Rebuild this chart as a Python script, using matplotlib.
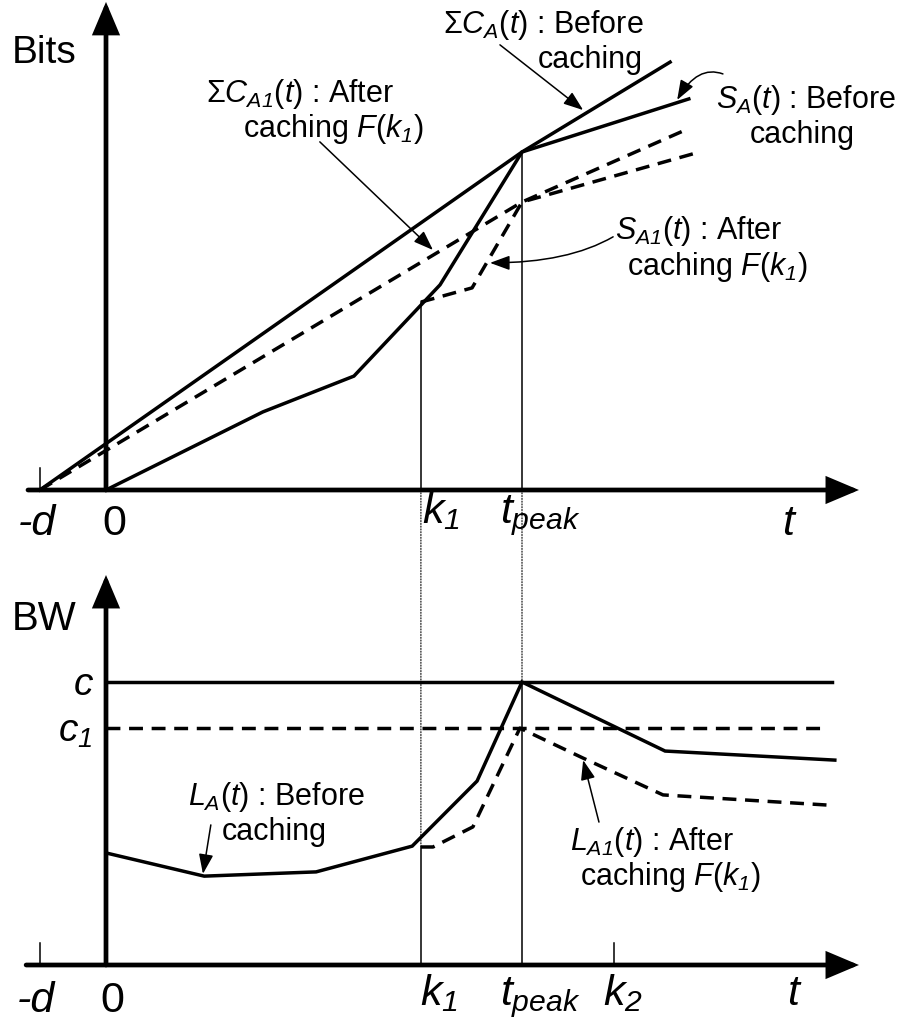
import matplotlib
matplotlib.use('Agg')
import matplotlib.pyplot as plt
from matplotlib.patches import ConnectionPatch

plt.rcParams['font.family'] = ['Liberation Sans', 'DejaVu Sans']
plt.rcParams['mathtext.fontset'] = 'custom'
plt.rcParams['mathtext.rm'] = 'Liberation Sans'
plt.rcParams['mathtext.it'] = 'Liberation Sans:italic'
# mathtext forces digits in \mathit to upright, so sf is used for italic digits
plt.rcParams['mathtext.sf'] = 'Liberation Sans:italic'
plt.rcParams['mathtext.bf'] = 'Liberation Sans:bold'

# time marks on the t axis (t_peak = 10)
t_d = -1.59
t_k1 = 7.57
t_peak = 10.0
t_k2 = 12.2

# upper panel: cumulative bits (peak = 100)
sumC_A_t = [t_d, 10.0, 13.56]
sumC_A_v = [0, 100, 126.6]
S_A_t = [0, 3.77, 5.96, 8.03, 10.0, 14.01]
S_A_v = [0, 23.1, 33.7, 60.7, 100, 115.7]
sumC_A1_t = [t_d, 10.0, 13.87]
sumC_A1_v = [0, 85.2, 106.2]
S_A1_t = [7.57, 8.80, 10.0, 14.18]
S_A1_v = [55.6, 59.8, 85.2, 99.7]

# lower panel: bandwidth (c = 100)
c_level = 100
c1_level = 83.7
c_end = 17.45
c1_end = 17.28
L_A_t = [0, 2.36, 5.05, 7.36, 8.92, 10.0, 13.44, 17.52]
L_A_v = [39.6, 31.4, 32.9, 42.0, 65.0, 100, 75.6, 72.4]
L_A1_t = [7.57, 7.86, 8.82, 9.95, 11.47, 13.39, 17.36]
L_A1_v = [41.7, 41.7, 48.8, 83.7, 73.1, 60.1, 56.5]

W, H = 901, 1025
X0, PX_T = 106, 41.6

fig = plt.figure(figsize=(W / 100, H / 100), dpi=100)


def make_axes(py_top, py_bot, y0, scale):
    ax = fig.add_axes([0, 1 - py_bot / H, 1, (py_bot - py_top) / H])
    ax.set_xlim(-X0 / PX_T, (W - X0) / PX_T)
    ax.set_ylim((y0 - py_bot) / scale, (y0 - py_top) / scale)
    ax.axis('off')
    ax.patch.set_visible(False)
    return ax


ax_top = make_axes(0, 560, 490, 3.38)
ax_bot = make_axes(560, 1025, 965, 2.83)

DASH = (0, (4, 2.5))
LW = 2.5


def axis_arrow(ax, start, end):
    ax.annotate('', xy=end, xytext=start, annotation_clip=False,
                arrowprops=dict(arrowstyle='-|>,head_length=0.9,head_width=0.38',
                                lw=3.4, color='black', shrinkA=0, shrinkB=0,
                                mutation_scale=20, joinstyle='miter'))


def pointer(ax, start, end, conn='arc3'):
    ax.annotate('', xy=end, xytext=start, annotation_clip=False,
                arrowprops=dict(arrowstyle='-|>,head_length=0.6,head_width=0.22',
                                lw=1.1, color='black', shrinkA=0, shrinkB=0,
                                mutation_scale=20, connectionstyle=conn))


def label(px, py, s, size=22, **kw):
    fig.text(px / W, 1 - py / H, s, fontsize=size, ha='left', va='baseline', **kw)


# ---- upper panel ----
ax_top.plot(sumC_A_t, sumC_A_v, color='black', lw=LW, solid_joinstyle='miter')
ax_top.plot(S_A_t, S_A_v, color='black', lw=LW, solid_joinstyle='miter')
ax_top.plot(sumC_A1_t, sumC_A1_v, color='black', lw=LW, ls=DASH)
ax_top.plot(S_A1_t, S_A1_v, color='black', lw=LW, ls=DASH)

ax_top.plot([t_k1, t_k1], [0, S_A1_v[0]], color='black', lw=1.1)
ax_top.plot([t_peak, t_peak], [0, 100], color='black', lw=1.1)
ax_top.plot([t_d, t_d], [0, 6.5], color='black', lw=1.1)

axis_arrow(ax_top, (0, 0), (0, 144.4))
axis_arrow(ax_top, (-1.875, 0), (18.1, 0))

pointer(ax_top, (5.14, 103.0), (7.86, 71.0))
pointer(ax_top, (9.47, 131.7), (11.47, 112.4))
pointer(ax_top, (14.83, 123.1), (13.73, 115.4), 'angle3,angleA=160,angleB=60')
pointer(ax_top, (12.19, 74.9), (9.23, 67.2), 'angle3,angleA=-150,angleB=0')

# ---- lower panel ----
ax_bot.plot([0, c_end], [c_level, c_level], color='black', lw=LW)
ax_bot.plot([0, c1_end], [c1_level, c1_level], color='black', lw=LW, ls=DASH)
ax_bot.plot(L_A_t, L_A_v, color='black', lw=LW, solid_joinstyle='miter')
ax_bot.plot(L_A1_t, L_A1_v, color='black', lw=LW, ls=DASH)

ax_bot.plot([t_k1, t_k1], [0, L_A1_v[0]], color='black', lw=1.1)
ax_bot.plot([t_peak, t_peak], [0, 100], color='black', lw=1.1)
ax_bot.plot([t_d, t_d], [0, 7.8], color='black', lw=1.1)
ax_bot.plot([t_k2, t_k2], [0, 7.8], color='black', lw=1.1)

axis_arrow(ax_bot, (0, 0), (0, 137.8))
axis_arrow(ax_bot, (-1.92, 0), (18.1, 0))

pointer(ax_bot, (2.52, 49.5), (2.33, 32.2))
pointer(ax_bot, (11.85, 50.5), (11.47, 72.4))

# dotted guides from the upper axis down into the lower panel
for tx, yb in [(t_k1, L_A1_v[0]), (t_peak, 100)]:
    fig.add_artist(ConnectionPatch(xyA=(tx, 0), coordsA=ax_top.transData,
                                   xyB=(tx, yb), coordsB=ax_bot.transData,
                                   linestyle=(0, (1, 1.5)), lw=0.8, color='black'))

# ---- texts ----
label(12, 63, 'Bits', 28)
label(206, 102, r'$\Sigma\mathit{C}_{\mathsf{A1}}(\mathit{t})$ : After')
label(243, 137, r'caching $\mathit{F}(\mathit{k}_{\mathsf{1}})$')
label(443, 33, r'$\Sigma\mathit{C}_{\mathsf{A}}(\mathit{t})$ : Before')
label(538, 68, 'caching')
label(716, 108, r'$\mathit{S}_{\mathsf{A}}(\mathit{t})$ : Before')
label(750, 143, 'caching')
label(615, 239, r'$\mathit{S}_{\mathsf{A1}}(\mathit{t})$ : After')
label(627, 275, r'caching $\mathit{F}(\mathit{k}_{\mathsf{1}})$')

label(12, 630, 'BW', 29)
label(74, 695, 'c', 28, style='italic')
label(58, 742, r'$\mathit{c}_{\mathsf{1}}$', 28)
label(188, 805, r'$\mathit{L}_{\mathsf{A}}(\mathit{t})$ : Before')
label(222, 840, 'caching')
label(570, 850, r'$\mathit{L}_{\mathsf{A1}}(\mathit{t})$ : After')
label(580, 885, r'caching $\mathit{F}(\mathit{k}_{\mathsf{1}})$')

# t axis labels
TS = 31
label(18, 535, '-d', TS, style='italic')
label(102, 535, '0', TS)
label(422, 523, r'$\mathit{k}_{\mathsf{1}}$', TS)
label(500, 523, r'$\mathit{t}_{\mathsf{peak}}$', TS)
label(782, 535, 't', TS, style='italic')

label(17, 1012, '-d', TS, style='italic')
label(100, 1012, '0', TS)
label(420, 1005, r'$\mathit{k}_{\mathsf{1}}$', TS)
label(500, 1005, r'$\mathit{t}_{\mathsf{peak}}$', TS)
label(603, 1005, r'$\mathit{k}_{\mathsf{2}}$', TS)
label(787, 1005, 't', TS, style='italic')

fig.savefig('out.png', dpi=100)
